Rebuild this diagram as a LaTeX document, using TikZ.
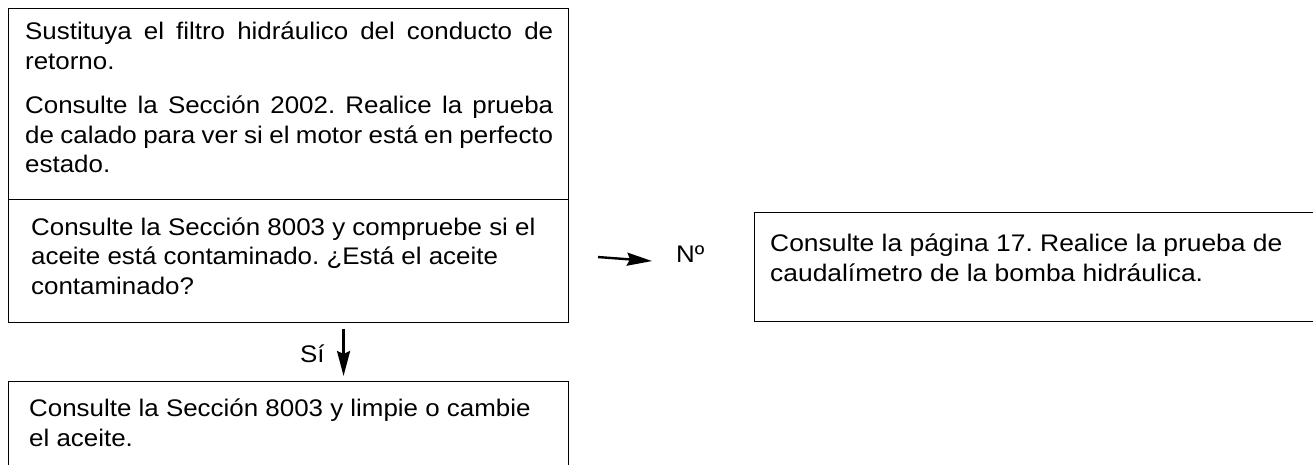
\documentclass[tikz,border=0pt]{standalone}
\usepackage{fontspec}
\setmainfont{Liberation Sans}
\newfontfamily\widesans[FakeStretch=1.10]{Liberation Sans}
\newfontfamily\narrowsans[FakeStretch=1.08]{Liberation Sans}
\usetikzlibrary{arrows.meta, positioning, calc}
\frenchspacing

\begin{document}
\begin{tikzpicture}[
    x=1pt, y=-1pt,
    box/.style={draw, line width=1.1pt, rectangle, anchor=north west, inner sep=0pt},
    txt/.style={anchor=base west, align=left, inner sep=0pt, font=\fontsize{24}{29.5}\narrowsans},
    arrow/.style={line width=2.4pt, -{Stealth[length=25pt, width=13pt, inset=3pt]}}
]
\useasboundingbox (0,0) rectangle (1313,465);

% Boxes
\node[box, minimum width=560pt, minimum height=191pt] (filtro) at (8,8) {};
\node[box, minimum width=560pt, minimum height=123pt] (contam) at (8,199) {};
\node[box, minimum width=560pt, minimum height=100pt] (limpieza) at (8,381) {};
\node[box, minimum width=580pt, minimum height=109pt] (bomba) at (754,212) {};

% Texts (justified ones at the first line, the others at the last line)
\node[txt, align=justify, text width=528pt] (filtrotxt) at (25,40)
    {Sustituya el filtro hidráulico del conducto de\linebreak retorno.};
\node[txt, align=justify, text width=528pt] (calado) at (25,114)
    {Consulte la Sección 2002. Realice la prueba\linebreak de calado para ver si el motor está en perfecto\linebreak estado.};
\node[txt] (contamtxt) at (31,294)
    {Consulte la Sección 8003 y compruebe si el\\aceite está contaminado. ¿Está el aceite\\contaminado?};
\node[txt] (limpiezatxt) at (29,446)
    {Consulte la Sección 8003 y limpie o cambie\\el aceite.};
\node[txt, font=\fontsize{24}{29.5}\widesans] (bombatxt) at (770,281)
    {Consulte la página 17. Realice la prueba de\\caudalímetro de la bomba hidráulica.};

% Connections
\draw[arrow] ([xshift=55pt, yshift=-6pt]contam.south) -- ([xshift=55pt, yshift=5pt]limpieza.north);
\node[txt] (si) at (300,362) {Sí};
\draw[arrow] ([xshift=29pt, yshift=4pt]contam.east) -- ([xshift=-102pt]contam.east -| bomba.west);
\node[txt] (no) at (676,262) {Nº};

\end{tikzpicture}
\end{document}
